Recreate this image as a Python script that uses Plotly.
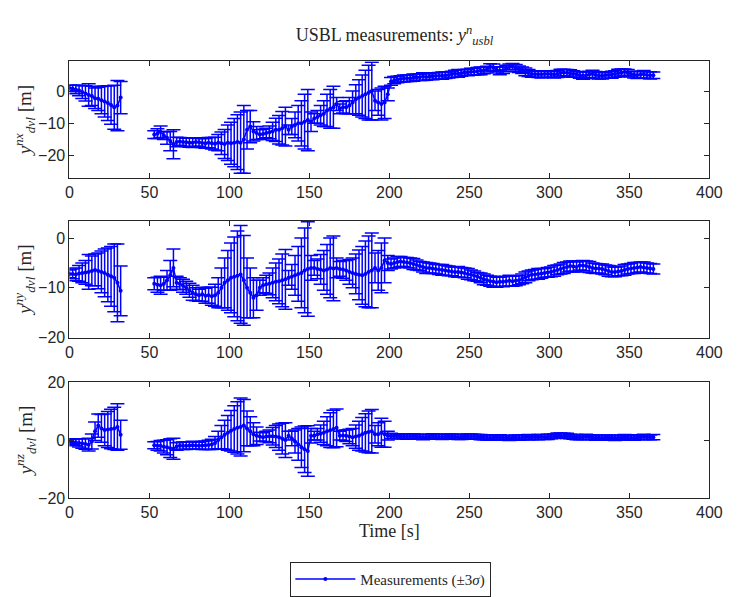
import plotly.graph_objects as go
from plotly.subplots import make_subplots

# ---- sample times [s] -------------------------------------------------------
t_a = [0, 2, 4, 6, 8, 10, 12, 14, 16, 18, 20, 22, 24, 26, 28, 30, 32]
t_b = list(range(53, 366, 2))

# ---- north (x) position, segment A / B --------------------------------------
nx_a = [1.0, 0.8, 0.5, 0.2, -0.3, -0.7, -1.2, -1.5, -2.2, -2.4, -2.8, -3.2,
        -3.7, -4.3, -5.0, -4.5, -2.0]
nx_err_a = [0.8, 1.0, 1.3, 1.6, 2.0, 2.4, 3.5, 3.0, 3.2, 3.6, 4.2, 4.8, 5.4,
            6.0, 6.8, 7.8, 5.0]
nx_b = [
    -13.5, -13.2, -12.6, -13.8, -14.5, -15.5, -16.5, -15.8, -15.6, -15.8,
    -15.9, -16.0, -16.0, -15.8, -15.9, -16.1, -16.2, -16.0, -16.2, -16.3,
    -16.0, -16.2, -16.4, -16.0, -16.2, -16.0, -15.8, -16.0, -15.0, -12.0,
    -11.0, -12.5, -13.0, -13.5, -13.3, -13.0, -12.8, -12.5, -12.0, -12.0,
    -11.5, -11.0, -12.0, -11.0, -10.5, -10.0, -10.0, -9.5, -9.0, -9.5,
    -8.5, -8.0, -7.5, -7.0, -6.0, -5.5, -5.0, -4.0, -5.5, -5.0,
    -5.0, -4.5, -3.5, -2.5, -2.0, -1.5, -1.0, -0.5, 0.0, -3.0,
    -3.5, -4.0, -3.5, -1.0, 3.0, 3.4, 3.6, 3.8, 3.9, 4.0,
    4.0, 4.2, 4.3, 4.3, 4.5, 4.4, 4.5, 4.6, 4.7, 4.8,
    4.8, 4.9, 5.0, 5.2, 5.4, 5.5, 5.6, 5.8, 5.8, 6.0,
    6.0, 6.2, 6.3, 6.4, 6.8, 7.5, 7.3, 6.6, 6.3, 6.5,
    7.0, 7.5, 7.6, 7.2, 6.8, 6.5, 6.0, 5.6, 5.3, 5.2,
    5.2, 5.2, 5.3, 5.3, 5.2, 5.1, 5.3, 5.6, 5.8, 5.7,
    5.5, 5.3, 5.2, 5.0, 4.8, 4.9, 5.2, 5.3, 5.0, 4.8,
    4.8, 4.9, 5.0, 5.1, 5.3, 5.6, 5.8, 5.9, 5.7, 5.3,
    5.1, 5.0, 5.1, 5.2, 5.0, 4.9, 4.9,
]
nx_err_b = [
    1.2, 1.5, 1.8, 1.2, 2.0, 3.0, 4.5, 1.5, 1.2, 1.3,
    1.3, 1.4, 1.5, 1.3, 1.2, 1.4, 1.5, 1.6, 1.8, 2.0,
    2.5, 3.5, 4.5, 5.5, 6.5, 7.5, 8.5, 9.5, 10.5, 6.0,
    5.0, 3.0, 2.0, 1.5, 1.5, 1.5, 2.0, 2.8, 3.6, 4.4,
    5.2, 6.0, 1.5, 2.5, 4.0, 5.5, 7.0, 8.5, 9.5, 3.0,
    1.5, 2.0, 3.0, 4.0, 5.0, 6.0, 6.5, 2.0, 1.5, 1.8,
    2.0, 2.5, 3.5, 4.5, 5.5, 6.5, 7.5, 8.5, 9.0, 3.0,
    4.0, 5.0, 5.0, 2.0, 1.2, 1.1, 1.0, 1.0, 1.1, 1.0,
    1.0, 1.1, 0.9, 1.0, 1.2, 1.0, 0.9, 1.1, 1.0, 1.0,
    1.1, 1.0, 0.9, 1.0, 1.1, 1.2, 1.0, 0.9, 1.0, 1.1,
    1.0, 1.1, 1.2, 1.0, 0.9, 1.0, 1.1, 1.0, 1.2, 1.0,
    1.0, 0.9, 1.0, 1.1, 1.0, 1.0, 1.2, 1.1, 1.0, 0.9,
    1.0, 1.1, 1.0, 1.0, 0.9, 1.0, 1.1, 1.2, 1.0, 1.0,
    1.1, 1.0, 0.9, 1.0, 1.1, 1.0, 1.0, 1.2, 1.1, 1.0,
    1.0, 0.9, 1.0, 1.1, 1.0, 1.2, 1.1, 1.0, 1.0, 0.9,
    1.0, 1.1, 1.0, 1.2, 1.0, 1.1, 1.0,
]

# ---- east (y) position ------------------------------------------------------
ny_a = [-7.2, -7.2, -7.3, -7.1, -7.0, -6.9, -6.8, -6.6, -6.4, -6.6, -6.8,
        -7.0, -7.4, -7.7, -8.0, -9.0, -10.6]
ny_err_a = [0.8, 1.0, 1.3, 1.6, 2.0, 2.4, 3.5, 3.0, 3.2, 3.6, 4.2, 4.8, 5.4,
            6.0, 6.8, 7.8, 5.0]
ny_b = [
    -9.2, -9.4, -9.5, -9.2, -8.5, -7.5, -6.0, -9.0, -9.2, -9.6,
    -10.0, -10.5, -11.0, -11.3, -11.5, -11.3, -11.6, -11.5, -11.7, -11.5,
    -11.0, -10.0, -9.0, -8.5, -8.0, -7.8, -7.6, -7.3, -8.5, -10.0,
    -11.0, -12.0, -11.5, -10.0, -9.5, -9.3, -9.2, -9.0, -8.8, -8.7,
    -8.5, -8.3, -8.0, -7.8, -7.5, -7.2, -7.0, -6.5, -6.2, -6.0,
    -6.0, -6.2, -6.3, -6.5, -6.3, -6.0, -6.1, -6.0, -6.2, -6.3,
    -6.5, -6.8, -7.0, -7.2, -7.4, -7.5, -7.2, -6.8, -6.5, -6.0,
    -6.5, -6.0, -4.5, -5.0, -5.2, -5.0, -4.8, -4.7, -4.8, -4.9,
    -5.0, -5.2, -5.4, -5.6, -5.8, -6.0, -6.0, -6.1, -6.2, -6.3,
    -6.4, -6.5, -6.6, -6.7, -6.8, -6.8, -6.9, -7.0, -7.2, -7.4,
    -7.6, -7.8, -8.0, -8.3, -8.5, -8.7, -8.8, -8.9, -8.8, -8.8,
    -8.7, -8.6, -8.7, -8.6, -8.5, -8.2, -7.9, -7.6, -7.4, -7.3,
    -7.2, -7.1, -7.0, -6.9, -6.8, -6.6, -6.4, -6.2, -6.0, -5.8,
    -5.6, -5.7, -5.8, -5.5, -5.5, -5.6, -5.8, -6.0, -6.1, -6.1,
    -6.2, -6.4, -6.6, -6.8, -6.8, -6.7, -6.6, -6.4, -6.2, -6.1,
    -6.0, -5.9, -5.8, -5.9, -6.0, -6.1, -6.2,
]
ny_err_b = [
    1.2, 1.5, 1.8, 1.3, 2.0, 3.0, 3.8, 1.3, 1.2, 1.3,
    1.3, 1.4, 1.5, 1.3, 1.2, 1.4, 1.5, 1.6, 1.8, 2.2,
    3.0, 4.0, 5.0, 6.0, 7.0, 8.0, 9.0, 9.8, 9.0, 6.0,
    5.0, 4.0, 3.0, 1.5, 1.5, 1.8, 2.2, 3.0, 3.8, 4.5,
    5.3, 6.0, 1.5, 2.5, 4.0, 5.5, 7.0, 8.5, 9.5, 2.5,
    1.5, 2.0, 3.0, 4.0, 5.0, 6.0, 6.5, 2.0, 1.5, 1.8,
    2.0, 2.5, 3.0, 4.0, 5.0, 5.8, 6.6, 7.2, 7.5, 3.0,
    4.0, 5.0, 4.5, 1.5, 1.0, 1.0, 1.1, 1.0, 0.9, 1.0,
    1.0, 1.1, 1.0, 0.9, 1.0, 1.1, 1.0, 1.0, 0.9, 1.0,
    1.1, 1.0, 1.0, 0.9, 1.0, 1.1, 1.0, 1.0, 1.1, 1.0,
    1.0, 0.9, 1.0, 1.1, 1.0, 1.0, 1.1, 1.0, 0.9, 1.0,
    1.0, 1.1, 1.0, 1.0, 0.9, 1.0, 1.1, 1.0, 1.0, 1.0,
    1.1, 1.0, 0.9, 1.0, 1.0, 1.1, 1.0, 1.0, 1.1, 1.0,
    1.0, 1.1, 1.0, 0.9, 1.0, 1.0, 1.1, 1.0, 1.0, 0.9,
    1.0, 1.0, 1.1, 1.0, 1.0, 0.9, 1.0, 1.1, 1.0, 1.0,
    1.1, 1.0, 1.0, 1.1, 1.0, 1.0, 1.0,
]

# ---- down (z) position ------------------------------------------------------
nz_a = [-0.5, -0.6, -0.8, -1.0, -1.2, -1.4, -1.6, -0.5, 3.0, 5.0, 4.0, 3.5,
        3.6, 3.8, 4.0, 4.5, 1.8]
nz_err_a = [0.8, 1.0, 1.2, 1.4, 1.6, 1.8, 2.2, 2.6, 3.2, 4.0, 4.8, 5.5, 6.2,
            6.8, 7.3, 8.0, 5.0]
nz_b = [
    -1.8, -2.0, -2.0, -2.3, -2.5, -2.8, -3.0, -2.2, -2.0, -2.0,
    -2.0, -1.9, -1.8, -1.9, -2.0, -1.9, -1.8, -1.7, -1.5, -1.0,
    0.0, 1.0, 1.8, 2.5, 3.2, 3.8, 4.2, 4.5, 5.0, 4.0,
    3.0, 2.0, 1.5, 1.2, 1.0, 1.2, 1.3, 1.3, 1.2, 1.0,
    0.5, 0.0, 1.5, 0.5, -0.5, -1.5, -2.5, -3.2, -3.8, 1.5,
    1.5, 2.0, 2.2, 2.5, 3.0, 3.4, 3.8, 4.2, 1.5, 1.6,
    1.5, 1.2, 1.0, 1.2, 1.5, 2.0, 2.5, 2.8, 3.0, 2.0,
    2.0, 2.5, 2.0, 1.5, 1.4, 1.3, 1.3, 1.2, 1.2, 1.2,
    1.2, 1.3, 1.2, 1.1, 1.0, 1.1, 1.2, 1.3, 1.2, 1.1,
    1.1, 1.2, 1.3, 1.2, 1.1, 1.0, 1.1, 1.2, 1.3, 1.2,
    1.2, 1.1, 1.0, 0.9, 0.8, 0.8, 0.9, 1.0, 0.9, 0.8,
    0.8, 0.7, 0.8, 0.9, 0.8, 0.9, 1.0, 1.0, 0.9, 1.0,
    1.0, 1.1, 1.0, 1.1, 1.2, 1.3, 1.5, 1.6, 1.5, 1.4,
    1.2, 1.1, 1.0, 0.9, 1.0, 1.1, 1.0, 0.9, 0.8, 0.8,
    0.7, 0.8, 0.9, 0.8, 0.7, 0.8, 0.9, 1.0, 0.9, 0.8,
    0.8, 0.9, 1.0, 1.1, 1.0, 0.9, 1.0,
]
nz_err_b = [
    1.2, 1.5, 1.8, 2.2, 2.6, 3.2, 3.6, 1.3, 1.2, 1.3,
    1.3, 1.3, 1.4, 1.3, 1.2, 1.4, 1.5, 1.6, 1.8, 2.2,
    3.0, 4.0, 5.0, 6.0, 7.0, 8.0, 9.0, 10.0, 9.0, 6.0,
    5.0, 4.0, 3.0, 1.5, 1.5, 1.8, 2.2, 3.0, 3.8, 4.5,
    5.3, 6.0, 1.5, 2.5, 4.0, 5.5, 7.0, 8.0, 8.7, 2.5,
    1.5, 2.0, 3.0, 4.0, 5.0, 6.0, 6.5, 6.5, 1.5, 1.8,
    2.0, 2.5, 3.0, 4.0, 5.0, 5.8, 6.6, 7.2, 7.5, 3.0,
    4.0, 5.0, 4.5, 1.5, 0.9, 0.8, 0.9, 0.8, 0.8, 0.9,
    0.8, 0.9, 0.8, 0.8, 0.9, 0.8, 0.8, 0.9, 0.8, 0.8,
    0.9, 0.8, 0.8, 0.9, 0.8, 0.8, 0.9, 0.8, 0.8, 0.9,
    0.8, 0.8, 0.9, 0.8, 0.8, 0.9, 0.8, 0.8, 0.9, 0.8,
    0.8, 0.9, 0.8, 0.8, 0.9, 0.8, 0.8, 0.9, 0.8, 0.8,
    0.9, 0.8, 0.8, 0.9, 0.8, 0.8, 0.9, 0.8, 0.8, 0.9,
    0.8, 0.8, 0.9, 0.8, 0.8, 0.9, 0.8, 0.8, 0.9, 0.8,
    0.8, 0.9, 0.8, 0.8, 0.9, 0.8, 0.8, 0.9, 0.8, 0.8,
    0.9, 0.8, 0.8, 0.9, 0.8, 0.8, 0.9,
]

x_ticks = [0, 50, 100, 150, 200, 250, 300, 350, 400]
panels = [
    (nx_a, nx_err_a, nx_b, nx_err_b, [-27, 9.3], [-20, -10, 0],
     "<i>y</i><sup><i>nx</i></sup><sub><i>dvl</i></sub> [m]"),
    (ny_a, ny_err_a, ny_b, ny_err_b, [-20, 3.5], [-20, -10, 0],
     "<i>y</i><sup><i>ny</i></sup><sub><i>dvl</i></sub> [m]"),
    (nz_a, nz_err_a, nz_b, nz_err_b, [-20, 20], [-20, 0, 20],
     "<i>y</i><sup><i>nz</i></sup><sub><i>dvl</i></sub> [m]"),
]

W, H = 737, 597
BLUE = "rgb(0,0,255)"
AX = "#262626"
SERIF = "Liberation Serif, DejaVu Serif, serif"
SANS = "Liberation Sans, Arial, sans-serif"

fig = make_subplots(rows=3, cols=1)

# pixel boxes of the three axes (top, bottom edges)
boxes = [(55, 176), (220, 341), (387, 507)]
x_left, x_right = 67, 722

for i, (ya, ea, yb, eb, yr, yt, ylab) in enumerate(panels):
    row = i + 1
    for k, (tt, yy, ee) in enumerate([(t_a, ya, ea), (t_b, yb, eb)]):
        fig.add_trace(
            go.Scatter(
                x=tt, y=yy, mode="lines+markers",
                line=dict(color=BLUE, width=1.5),
                marker=dict(color=BLUE, size=4),
                error_y=dict(type="data", array=ee, visible=True,
                             color=BLUE, thickness=1.5, width=7),
                name="Measurements (\u00b13<i>\u03c3</i>)",
                legendgroup="meas",
                showlegend=(i == 0 and k == 0),
            ),
            row=row, col=1,
        )
    top, bot = boxes[i]
    axn = "" if i == 0 else str(row)
    fig.layout["xaxis" + axn].update(
        domain=[x_left / W, x_right / W], range=[0, 400], tickvals=x_ticks,
        ticks="inside", ticklen=5, tickcolor=AX, showline=True, linecolor=AX,
        linewidth=1, mirror="ticks", showgrid=False, zeroline=False,
        tickfont=dict(family=SANS, size=16, color=AX),
    )
    fig.layout["yaxis" + axn].update(
        domain=[1 - bot / H, 1 - top / H], range=yr, tickvals=yt,
        ticks="inside", ticklen=5, tickcolor=AX, showline=True, linecolor=AX,
        linewidth=1, mirror="ticks", showgrid=False, zeroline=False,
        tickfont=dict(family=SANS, size=16, color=AX),
        title=dict(text=ylab, font=dict(family=SERIF, size=19, color=AX),
                   standoff=0),
    )

fig.layout.xaxis3.title = dict(text="Time [s]",
                               font=dict(family=SERIF, size=18, color=AX),
                               standoff=2)

fig.update_layout(
    width=W, height=H, autosize=False,
    margin=dict(l=0, r=0, t=0, b=0),
    paper_bgcolor="white", plot_bgcolor="white",
    title=dict(
        text="USBL measurements: <i>y</i><sup><i>n</i></sup><sub><i>usbl</i></sub>",
        font=dict(family=SERIF, size=18, color=AX),
        x=(x_left + x_right) / 2 / W, xanchor="center",
        y=1 - 35 / H, yanchor="middle",
    ),
    legend=dict(
        orientation="h", x=396 / W, xanchor="center",
        y=1 - 573 / H, yanchor="top",
        bordercolor=AX, borderwidth=1, bgcolor="white",
        font=dict(family=SERIF, size=15, color=AX),
        itemwidth=60,
    ),
)

fig.write_html("out.html")
